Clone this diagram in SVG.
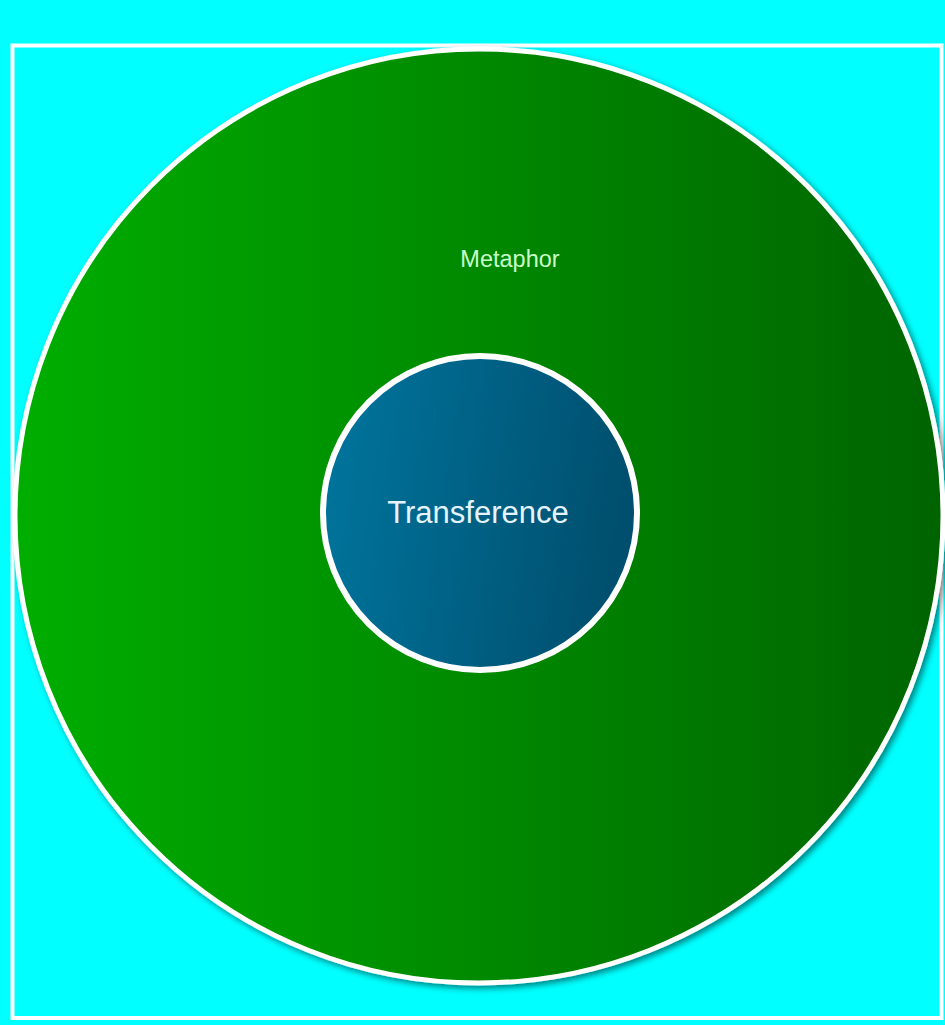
<svg xmlns="http://www.w3.org/2000/svg" width="945" height="1025" viewBox="0 0 945 1025">
<defs>
<linearGradient id="gGreen" x1="0" y1="0" x2="1" y2="0">
<stop offset="0" stop-color="#00ae00"/>
<stop offset="1" stop-color="#006400"/>
</linearGradient>
<linearGradient id="gBlue" x1="0" y1="0" x2="1" y2="0.15">
<stop offset="0" stop-color="#00769f"/>
<stop offset="1" stop-color="#004f6e"/>
</linearGradient>
<filter id="shadow" x="-10%" y="-10%" width="120%" height="120%">
<feGaussianBlur in="SourceAlpha" stdDeviation="3"/>
<feOffset dx="3" dy="3" result="b"/>
<feComponentTransfer><feFuncA type="linear" slope="0.5"/></feComponentTransfer>
<feMerge><feMergeNode/><feMergeNode in="SourceGraphic"/></feMerge>
</filter>
<style>
.lbl{font-family:"Liberation Sans",Arial,sans-serif;text-anchor:middle}
</style>
</defs>
<rect x="0" y="0" width="945" height="1025" fill="#00ffff"/>
<rect id="frame" x="12.5" y="45.5" width="929" height="972.5" fill="none" stroke="#ffffff" stroke-width="4"/>
<g id="metaphor">
<ellipse cx="479" cy="516" rx="464" ry="467" fill="url(#gGreen)" stroke="#ffffff" stroke-width="5" filter="url(#shadow)"/>
<text class="lbl" x="510" y="267" font-size="23.5" fill="#c8ffc8">Metaphor</text>
</g>
<g id="transference">
<circle cx="480" cy="513" r="157" fill="url(#gBlue)" stroke="#ffffff" stroke-width="6"/>
<text class="lbl" x="478" y="523" font-size="31" fill="#e6f4ff">Transference</text>
</g>
<g id="connectors"></g>
</svg>
